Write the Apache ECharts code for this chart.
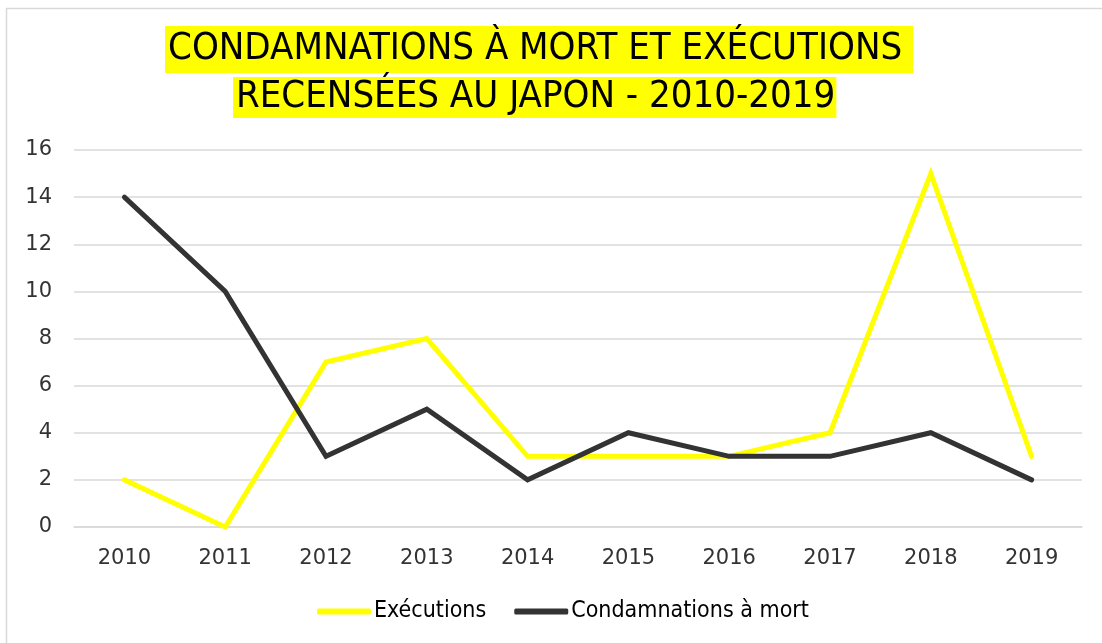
<!DOCTYPE html>
<html>
<head>
<meta charset="utf-8">
<script src="https://cdn.jsdelivr.net/npm/echarts@6/dist/echarts.min.js"></script>
<style>
html,body{margin:0;padding:0;background:#fff;}
#c{width:1102px;height:643px;}
</style>
</head>
<body>
<div id="c"></div>
<script>
const years = ['2010','2011','2012','2013','2014','2015','2016','2017','2018','2019'];
const executions = [2, 0, 7, 8, 3, 3, 3, 4, 15, 3];
const condamnations = [14, 10, 3, 5, 2, 4, 3, 3, 4, 2];
const titleLine1 = 'CONDAMNATIONS À MORT ET EXÉCUTIONS ';
const titleLine2 = 'RECENSÉES AU JAPON - 2010-2019';

const narrow = '"Liberation Sans Narrow", "DejaVu Sans Condensed", "Arial Narrow", sans-serif';
const chart = echarts.init(document.getElementById('c'), null, {renderer: 'canvas'});
chart.setOption({
  animation: false,
  backgroundColor: '#fff',
  graphic: [{
    type: 'rect', left: 4, top: 6, z: -10,
    shape: {width: 1120, height: 660},
    style: {fill: 'none', stroke: '#d9d9d9', lineWidth: 1.5}
  }],
  title: [{
    text: titleLine1, left: 165, top: 26,
    backgroundColor: '#ffff00', padding: [3, 0, 3, 3],
    textStyle: {fontFamily: narrow, fontSize: 38, fontWeight: 'normal', color: '#000', lineHeight: 41}
  }, {
    text: titleLine2, left: 233, top: 77,
    backgroundColor: '#ffff00', padding: [1, 1, 1, 3],
    textStyle: {fontFamily: narrow, fontSize: 38, fontWeight: 'normal', color: '#000', lineHeight: 39}
  }],
  legend: {
    bottom: 15, left: 312,
    icon: 'roundRect',
    itemWidth: 54, itemHeight: 6, itemGap: 28,
    textStyle: {fontFamily: narrow, fontSize: 23, color: '#000', padding: [0,0,0,-2]},
    data: ['Exécutions', 'Condamnations à mort']
  },
  grid: {left: 74, right: 20, top: 150, bottom: 116, containLabel: false},
  xAxis: {
    type: 'category', data: years, boundaryGap: true,
    axisLine: {show: true, lineStyle: {color: '#d9d9d9', width: 1.5}},
    axisTick: {show: false},
    axisLabel: {margin: 21, fontFamily: 'DejaVu Sans', fontSize: 21, color: '#333'}
  },
  yAxis: {
    type: 'value', min: 0, max: 16, interval: 2,
    axisLine: {show: false}, axisTick: {show: false},
    splitLine: {lineStyle: {color: '#d9d9d9', width: 1.5}},
    axisLabel: {margin: 22, fontFamily: 'DejaVu Sans', fontSize: 21, color: '#333'}
  },
  series: [{
    name: 'Exécutions', type: 'line', data: executions,
    showSymbol: false, symbol: 'none',
    lineStyle: {color: '#ffff00', width: 5, cap: 'round', join: 'miter'},
    itemStyle: {color: '#ffff00'}
  }, {
    name: 'Condamnations à mort', type: 'line', data: condamnations,
    showSymbol: false, symbol: 'none',
    lineStyle: {color: '#333333', width: 5, cap: 'round', join: 'miter'},
    itemStyle: {color: '#333333'}
  }]
});
</script>
</body>
</html>
